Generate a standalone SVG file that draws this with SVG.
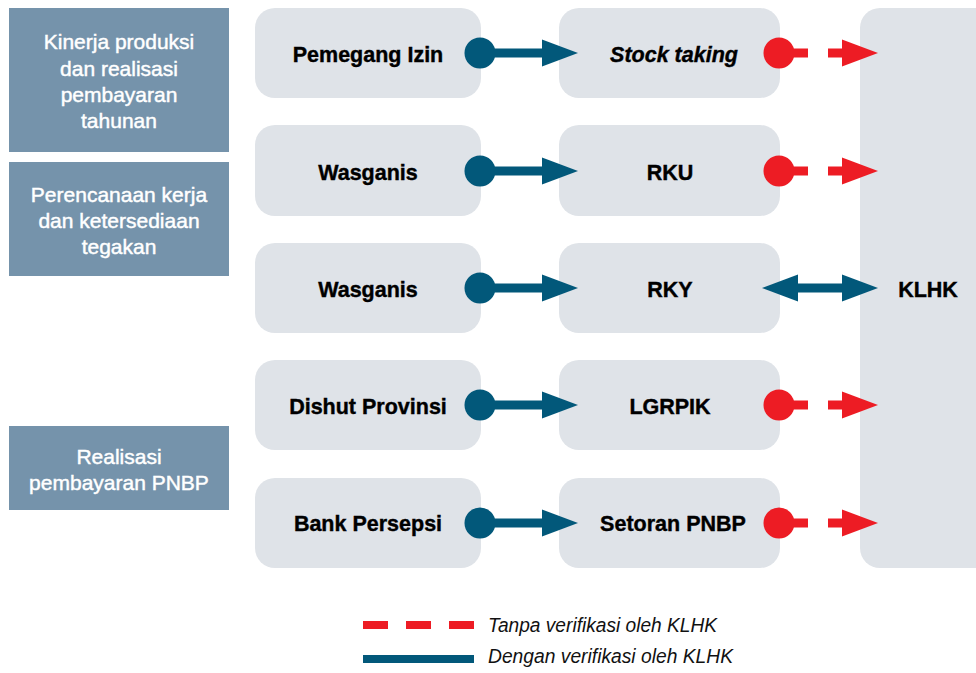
<svg xmlns="http://www.w3.org/2000/svg" width="976" height="673" viewBox="0 0 976 673">
<defs>
<style>
.cat{fill:#7593AB}
.node{fill:#DFE3E8}
.ct{font-family:"Liberation Sans",Arial,sans-serif;font-size:21px;fill:#fff;text-anchor:middle;stroke:#fff;stroke-width:0.45}
.nt{font-family:"Liberation Sans",Arial,sans-serif;font-size:21.5px;font-weight:bold;fill:#000;text-anchor:middle;stroke:#000;stroke-width:0.4}
.lt{font-family:"Liberation Sans",Arial,sans-serif;font-size:20px;font-style:italic;fill:#111}
.blue{fill:#02587A}
.red{fill:#ED1C24}
</style>
</defs>
<rect width="976" height="673" fill="#fff"/>
<g id="cat1"><rect class="cat" x="9" y="8" width="220" height="144"/>
<text class="ct" x="119" y="49">Kinerja produksi</text>
<text class="ct" x="119" y="75.5">dan realisasi</text>
<text class="ct" x="119" y="102">pembayaran</text>
<text class="ct" x="119" y="128">tahunan</text></g>
<g id="cat2"><rect class="cat" x="9" y="162" width="220" height="114"/>
<text class="ct" x="119" y="202">Perencanaan kerja</text>
<text class="ct" x="119" y="228">dan ketersediaan</text>
<text class="ct" x="119" y="254">tegakan</text></g>
<g id="cat3"><rect class="cat" x="9" y="426" width="220" height="84"/>
<text class="ct" x="119" y="464">Realisasi</text>
<text class="ct" x="119" y="490">pembayaran PNBP</text></g>
<g id="klhk"><rect class="node" x="860" y="8" width="140" height="560" rx="20"/>
<text class="nt" x="928" y="297">KLHK</text></g>
<g id="n-pemegang"><rect class="node" x="255" y="8" width="226" height="90" rx="20"/><text class="nt" x="368" y="62">Pemegang Izin</text></g>
<g id="n-wasganis1"><rect class="node" x="255" y="125" width="226" height="91" rx="20"/><text class="nt" x="368" y="180">Wasganis</text></g>
<g id="n-wasganis2"><rect class="node" x="255" y="243" width="226" height="90" rx="20"/><text class="nt" x="368" y="297">Wasganis</text></g>
<g id="n-dishut"><rect class="node" x="255" y="360" width="226" height="90" rx="20"/><text class="nt" x="368" y="414">Dishut Provinsi</text></g>
<g id="n-bank"><rect class="node" x="255" y="478" width="226" height="90" rx="20"/><text class="nt" x="368" y="531">Bank Persepsi</text></g>
<g id="n-stock"><rect class="node" x="559" y="8" width="221" height="90" rx="20"/><text class="nt" x="674" y="62" font-style="italic">Stock taking</text></g>
<g id="n-rku"><rect class="node" x="559" y="125" width="221" height="91" rx="20"/><text class="nt" x="670" y="180">RKU</text></g>
<g id="n-rky"><rect class="node" x="559" y="243" width="221" height="90" rx="20"/><text class="nt" x="670" y="297">RKY</text></g>
<g id="n-lgrpik"><rect class="node" x="559" y="360" width="221" height="90" rx="20"/><text class="nt" x="670" y="414">LGRPIK</text></g>
<g id="n-setoran"><rect class="node" x="559" y="478" width="221" height="90" rx="20"/><text class="nt" x="673" y="531">Setoran PNBP</text></g>
<g id="connectors">
<g transform="translate(0,53)"><circle class="blue" cx="480" cy="0" r="15.5"/><rect class="blue" x="480" y="-4.5" width="64" height="9"/><polygon class="blue" points="542,-13.5 578,0 542,13.5"/>
<circle class="red" cx="779" cy="0" r="15.5"/><rect class="red" x="779" y="-4.5" width="29" height="9"/><rect class="red" x="828" y="-4.5" width="16" height="9"/><polygon class="red" points="842,-13.5 878,0 842,13.5"/></g>
<g transform="translate(0,171)"><circle class="blue" cx="480" cy="0" r="15.5"/><rect class="blue" x="480" y="-4.5" width="64" height="9"/><polygon class="blue" points="542,-13.5 578,0 542,13.5"/>
<circle class="red" cx="779" cy="0" r="15.5"/><rect class="red" x="779" y="-4.5" width="29" height="9"/><rect class="red" x="828" y="-4.5" width="16" height="9"/><polygon class="red" points="842,-13.5 878,0 842,13.5"/></g>
<g transform="translate(0,288)"><circle class="blue" cx="480" cy="0" r="15.5"/><rect class="blue" x="480" y="-4.5" width="64" height="9"/><polygon class="blue" points="542,-13.5 578,0 542,13.5"/>
<rect class="blue" x="796" y="-4.5" width="48" height="9"/><polygon class="blue" points="798,-13.5 762,0 798,13.5"/><polygon class="blue" points="842,-13.5 878,0 842,13.5"/></g>
<g transform="translate(0,405)"><circle class="blue" cx="480" cy="0" r="15.5"/><rect class="blue" x="480" y="-4.5" width="64" height="9"/><polygon class="blue" points="542,-13.5 578,0 542,13.5"/>
<circle class="red" cx="779" cy="0" r="15.5"/><rect class="red" x="779" y="-4.5" width="29" height="9"/><rect class="red" x="828" y="-4.5" width="16" height="9"/><polygon class="red" points="842,-13.5 878,0 842,13.5"/></g>
<g transform="translate(0,523)"><circle class="blue" cx="480" cy="0" r="15.5"/><rect class="blue" x="480" y="-4.5" width="64" height="9"/><polygon class="blue" points="542,-13.5 578,0 542,13.5"/>
<circle class="red" cx="779" cy="0" r="15.5"/><rect class="red" x="779" y="-4.5" width="29" height="9"/><rect class="red" x="828" y="-4.5" width="16" height="9"/><polygon class="red" points="842,-13.5 878,0 842,13.5"/></g>
</g>
<g id="legend">
<rect class="red" x="363" y="621" width="25" height="8"/><rect class="red" x="406" y="621" width="25" height="8"/><rect class="red" x="449" y="621" width="25" height="8"/>
<text class="lt" x="488" y="632" textLength="229" lengthAdjust="spacingAndGlyphs">Tanpa verifikasi oleh KLHK</text>
<rect class="blue" x="363" y="655" width="111" height="8"/>
<text class="lt" x="488" y="663" textLength="245" lengthAdjust="spacingAndGlyphs">Dengan verifikasi oleh KLHK</text>
</g>
</svg>
